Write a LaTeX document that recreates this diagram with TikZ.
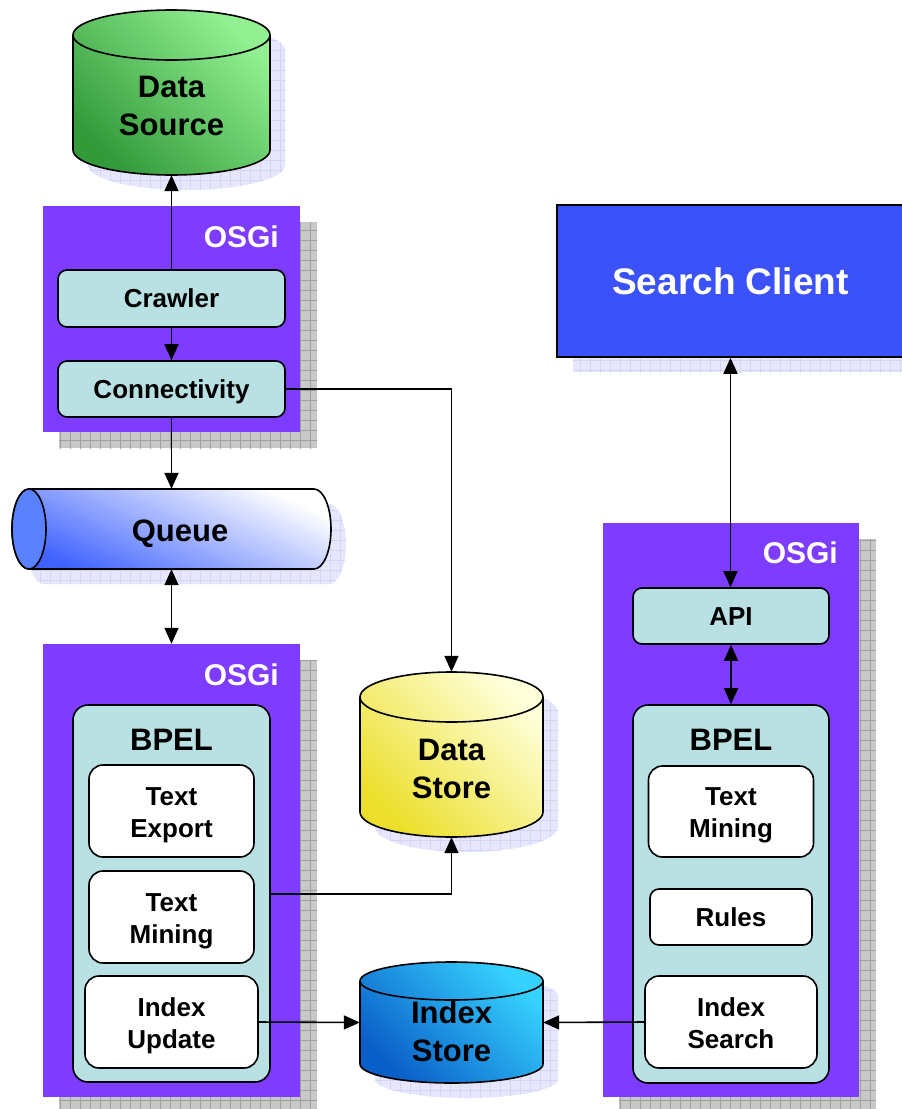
\documentclass[tikz,border=0pt]{standalone}
\usepackage{fontspec}
\setmainfont{Liberation Sans}
\usetikzlibrary{arrows.meta}
\definecolor{osgi}{HTML}{7D3CFF}
\definecolor{boxc}{HTML}{B9E0E3}
\definecolor{client}{HTML}{3B52F8}
\definecolor{lavsh}{HTML}{E6E6FC}
\definecolor{lavgrid}{HTML}{D4D4F6}
\definecolor{graysh}{HTML}{C8C8C8}
\definecolor{graygrid}{HTML}{A0A0A0}
\definecolor{dslight}{HTML}{92F092}
\definecolor{dsdark}{HTML}{339A3A}
\definecolor{dtlight}{HTML}{FFFFDA}
\definecolor{dtdark}{HTML}{ECDF2C}
\definecolor{islight}{HTML}{36D2FF}
\definecolor{isdark}{HTML}{0A5EC8}
\definecolor{qblue}{HTML}{3F62FF}
\definecolor{qcap}{HTML}{5A82FF}

% cylinder: #1 cx, #2 top-ellipse cy, #3 bottom-ellipse cy, #4 rx, #5 ry, #6 light, #7 dark
\newcommand\mycyl[7]{%
  \begin{scope}
    \clip ({#1-#4+15},{#2+15}) -- ({#1-#4+15},{#3+15}) arc[start angle=180,end angle=0,x radius=#4,y radius=#5] -- ({#1+#4+15},{#2+15}) arc[start angle=0,end angle=-180,x radius=#4,y radius=#5] -- cycle;
    \fill[lavsh] (0,0) rectangle (910,1120);
    \draw[lavgrid,line width=0.6pt,step=10pt] (0,0) grid (910,1120);
  \end{scope}
  \shadedraw[top color=#6,bottom color=#7,shading angle=-45,line width=1.6pt]
    ({#1-#4},#2) -- ({#1-#4},#3) arc[start angle=180,end angle=0,x radius=#4,y radius=#5] -- ({#1+#4},#2) arc[start angle=0,end angle=-180,x radius=#4,y radius=#5] -- cycle;
  \draw[line width=1.6pt] ({#1-#4},#2) arc[start angle=180,end angle=0,x radius=#4,y radius=#5];
}
% grid shadow: #1 #2 corner, #3 #4 corner, #5 fill, #6 grid
\newcommand\gridshadow[6]{%
  \begin{scope}
    \clip (#1,#2) rectangle (#3,#4);
    \fill[#5] (#1,#2) rectangle (#3,#4);
    \draw[#6,line width=0.6pt,step=10pt] (0,0) grid (910,1120);
  \end{scope}}
% two centred lines, lowered a little
\newcommand\twol[2]{\raisebox{-4pt}[\height][\depth]{\begin{tabular}{@{}c@{}}#1\\#2\end{tabular}}}

\begin{document}
\begin{tikzpicture}[x=1pt,y=-1pt,
  arr/.style={line width=1.6pt,-{Triangle[length=16pt,width=14pt]}},
  darr/.style={line width=1.6pt,{Triangle[length=16pt,width=14pt]}-{Triangle[length=16pt,width=14pt]}},
  osgibox/.style={fill=osgi,inner sep=0pt},
  rbox/.style={draw=black,line width=1.6pt,fill=boxc,rounded corners=9pt,inner sep=0pt,text height=18.6pt,text depth=0pt,font=\bfseries\fontsize{26}{31}\selectfont},
  wbox/.style={draw=black,line width=1.6pt,fill=white,rounded corners=14pt,inner sep=0pt,font=\bfseries\fontsize{26}{32}\selectfont},
  bpelbox/.style={draw=black,line width=1.6pt,fill=boxc,rounded corners=15pt,inner sep=0pt},
  bpellabel/.style={font=\bfseries\fontsize{31}{37}\selectfont},
  osgilabel/.style={text=white,anchor=east,inner sep=0pt,font=\bfseries\fontsize{30}{36}\selectfont},
  cyltext/.style={align=center,inner sep=0pt,font=\bfseries\fontsize{31}{38}\selectfont},
  anchorbox/.style={inner sep=0pt}
]
\useasboundingbox (0,0) rectangle (902,1109);
\fill[white] (0,0) rectangle (902,1109);

% ---------- shadows of boxes ----------
\gridshadow{59}{222}{317}{448}{graysh}{graygrid}
\gridshadow{59}{660}{317}{1113}{graysh}{graygrid}
\gridshadow{619}{539}{876}{1113}{graysh}{graygrid}
\gridshadow{573}{221}{920}{372}{lavsh}{lavgrid}

% ---------- cylinders ----------
\mycyl{171.5}{35}{150}{98.5}{25}{dslight}{dsdark}
\mycyl{451.5}{697}{812}{91.5}{25}{dtlight}{dtdark}
\mycyl{451.5}{981}{1064}{91.5}{19}{islight}{isdark}

% queue (horizontal cylinder)
\begin{scope}
  \clip (44,504) -- (329,504) arc[start angle=-90,end angle=90,x radius=17,y radius=40] -- (44,584) arc[start angle=90,end angle=270,x radius=17,y radius=40] -- cycle;
  \fill[lavsh] (0,0) rectangle (910,1120);
  \draw[lavgrid,line width=0.6pt,step=10pt] (0,0) grid (910,1120);
\end{scope}
\shadedraw[top color=white,bottom color=qblue,shading angle=-25,line width=1.6pt]
  (29,489) -- (314,489) arc[start angle=-90,end angle=90,x radius=17,y radius=40] -- (29,569) arc[start angle=90,end angle=270,x radius=17,y radius=40] -- cycle;
\filldraw[fill=qcap,line width=1.6pt] (29,529) ellipse[x radius=17,y radius=40];

% anchor boxes for the cylinders
\node[anchorbox,minimum width=197pt,minimum height=165pt] (ds) at (171.5,92.5) {};
\node[anchorbox,minimum width=183pt,minimum height=165pt] (dstore) at (451.5,754.5) {};
\node[anchorbox,minimum width=183pt,minimum height=121pt] (istore) at (451.5,1022.5) {};
\node[anchorbox,minimum width=319pt,minimum height=80pt] (queue) at (171.5,529) {};

\node[cyltext] (dslabel) at (171.5,106) {Data\\Source};
\node[cyltext] (dstlabel) at (451.5,768.5) {Data\\Store};
\node[cyltext] (islabel) at (451.5,1031) {Index\\Store};
\node[cyltext,text height=22.2pt,text depth=0pt] (qlabel) at (180,530) {Queue};

% ---------- search client ----------
\node[draw=black,line width=1.6pt,fill=client,minimum width=347pt,minimum height=152pt,inner sep=0pt,
      text=white,text height=26.5pt,text depth=0pt,font=\bfseries\fontsize{37}{44}\selectfont] (client) at (730.5,281) {Search Client};

% ---------- OSGi A ----------
\node[osgibox,minimum width=257pt,minimum height=226pt] (osgiA) at (171.5,319) {};
\node[osgilabel] (osgiAl) at (279,237) {OSGi};
\node[rbox,minimum width=227pt,minimum height=57pt] (crawler) at (171.5,298.5) {Crawler};
\node[rbox,minimum width=227pt,minimum height=56pt] (conn) at (171.5,389) {Connectivity};

% ---------- OSGi B ----------
\node[osgibox,minimum width=257pt,minimum height=453pt] (osgiB) at (171.5,870.5) {};
\node[osgilabel] (osgiBl) at (279,675) {OSGi};
\node[bpelbox,minimum width=197pt,minimum height=377pt] (bpelL) at (171.5,893.5) {};
\node[bpellabel] (bpelLl) at (171.5,740) {BPEL};
\node[wbox,minimum width=165pt,minimum height=92pt] (teL) at (171.5,811) {\twol{Text}{Export}};
\node[wbox,minimum width=165pt,minimum height=92pt] (tmL) at (171.5,917) {\twol{Text}{Mining}};
\node[wbox,minimum width=173pt,minimum height=92pt] (iu) at (171.5,1022) {\twol{Index}{Update}};
\coordinate (tmout) at (270,894);

% ---------- OSGi C ----------
\node[osgibox,minimum width=256pt,minimum height=574pt] (osgiC) at (731,810) {};
\node[osgilabel] (osgiCl) at (838,553) {OSGi};
\node[rbox,minimum width=196pt,minimum height=56pt] (api) at (731,616) {API};
\node[bpelbox,minimum width=196pt,minimum height=378pt] (bpelR) at (731,894) {};
\node[bpellabel] (bpelRl) at (731,740) {BPEL};
\node[wbox,minimum width=165pt,minimum height=91pt] (tmR) at (731,811.5) {\twol{Text}{Mining}};
\node[wbox,rounded corners=9pt,text height=18.6pt,text depth=0pt,minimum width=162pt,minimum height=56pt] (rules) at (731,917) {Rules};
\node[wbox,minimum width=172pt,minimum height=92pt] (is) at (731,1022) {\twol{Index}{Search}};

% ---------- connectors ----------
\draw[arr] (crawler.north) -- (ds.south);
\draw[arr] (crawler.south) -- (conn.north);
\draw[arr] (conn.south) -- (queue.north);
\draw[arr] (conn.east) -| (dstore.north);
\draw[darr] (queue.south) -- (osgiB.north);
\draw[arr] (tmout) -| (dstore.south);
\draw[arr] (iu.east) -- (istore.west);
\draw[arr] (is.west) -- (istore.east);
\draw[darr] (client.south) -- (client.south |- api.north);
\draw[darr] (api.south) -- (bpelR.north);
\end{tikzpicture}
\end{document}
